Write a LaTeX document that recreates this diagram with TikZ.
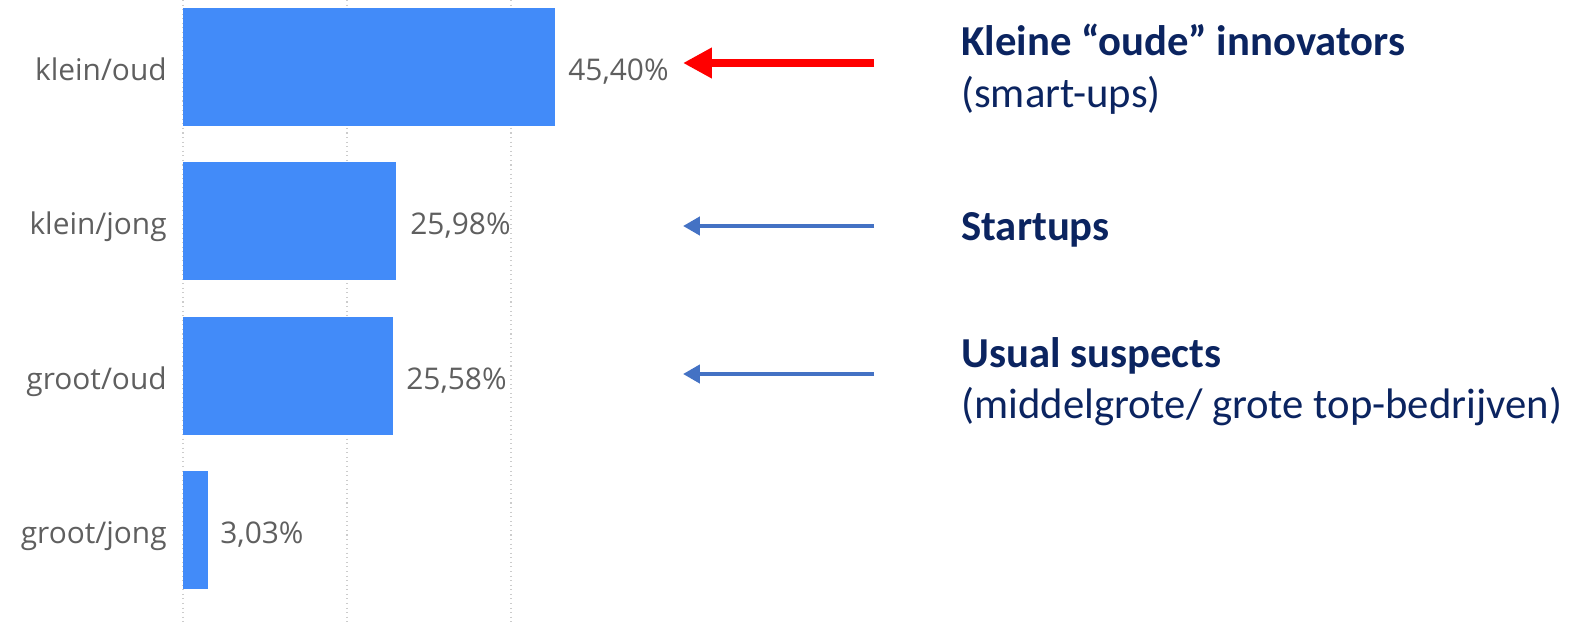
\documentclass[tikz,border=0pt]{standalone}
\usepackage{fontspec}
\usepackage{xcolor}
\usepackage{tikz}
\usetikzlibrary{arrows.meta}
\newfontfamily\chartfont{Open Sans}
\newfontfamily\notefont{Carlito}
\definecolor{barblue}{HTML}{428BF9}
\definecolor{axisgray}{HTML}{5F5F5F}
\definecolor{gridgray}{HTML}{CCCCCC}
\definecolor{navy}{HTML}{0B2460}
\definecolor{hotred}{HTML}{FF0000}
\definecolor{coolblue}{HTML}{4472C4}
\tikzset{
  cat/.style={text=axisgray, font=\chartfont\fontsize{17}{20}\selectfont, anchor=base east, inner sep=0pt},
  val/.style={text=axisgray, font=\chartfont\fontsize{17}{20}\selectfont, anchor=base west, inner sep=0pt},
  bar/.style={fill=barblue},
  grid/.style={draw=gridgray, line width=0.6pt, dotted},
  note/.style={text=navy, font=\notefont\bfseries\fontsize{24.3}{29}\selectfont, anchor=base west, inner sep=0pt},
  sub/.style={text=navy, font=\notefont\fontsize{24.3}{29}\selectfont, anchor=base west, inner sep=0pt},
  hotArrow/.style={draw=hotred, line width=5.1pt, -{Triangle[length=16.4pt,width=16.4pt]}},
  coolArrow/.style={draw=coolblue, line width=2.8pt, -{Triangle[length=9.6pt,width=10.2pt]}}
}

\begin{document}
\begin{tikzpicture}[x=0.02cm, y=-0.02cm]
  \useasboundingbox (0,0) rectangle (1586,622);

  % grid
  \draw[grid] (183,0) -- (183,622);
  \draw[grid] (347,0) -- (347,622);
  \draw[grid] (511,0) -- (511,622);

  % bars
  \fill[bar] (183,8) rectangle (555,126);
  \fill[bar] (183,162) rectangle (396,280);
  \fill[bar] (183,317) rectangle (393,435);
  \fill[bar] (183,471) rectangle (208,589);

  \node[cat] (kleinOud) at (167,80) {klein/oud};
  \node[cat] (kleinJong) at (167,234) {klein/jong};
  \node[cat] (grootOud) at (167,389) {groot/oud};
  \node[cat] (grootJong) at (167,543) {groot/jong};

  \node[val] (vKleinOud) at (568,80) {45,40\%};
  \node[val] (vKleinJong) at (410,234) {25,98\%};
  \node[val] (vGrootOud) at (406,389) {25,58\%};
  \node[val] (vGrootJong) at (220,543) {3,03\%};

  % notes
  \node[note] (smartUps) at (961,55) {Kleine “oude” innovators};
  \node[sub] (smartUpsSub) at (961,107) {(smart-ups)};
  \node[note] (startups) at (961,240) {Startups};
  \node[note] (usual) at (961,367) {Usual suspects};
  \node[sub] (usualSub) at (961,418) {(middelgrote/ grote top-bedrijven)};

  \coordinate (smartFrom) at (874,63);
  \coordinate (smartTo) at (683,63);
  \coordinate (startFrom) at (874,226);
  \coordinate (startTo) at (683,226);
  \coordinate (usualFrom) at (874,374);
  \coordinate (usualTo) at (683,374);
  \draw[hotArrow] (smartFrom) -- (smartTo);
  \draw[coolArrow] (startFrom) -- (startTo);
  \draw[coolArrow] (usualFrom) -- (usualTo);
\end{tikzpicture}
\end{document}
